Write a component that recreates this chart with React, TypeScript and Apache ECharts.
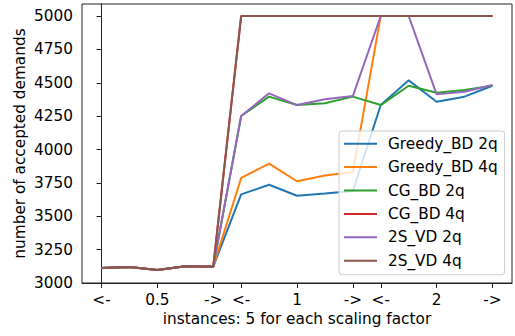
import React, { useEffect, useRef } from "react";
import * as echarts from "echarts";

const xIndex = [0, 1, 2, 3, 4, 5, 6, 7, 8, 9, 10, 11, 12, 13, 14];
const tickPositions = [0, 2, 4, 5, 7, 9, 10, 12, 14];
const tickLabels = ["<-", "0.5", "->", "<-", "1", "->", "<-", "2", "->"];
const yTicks = [3000, 3250, 3500, 3750, 4000, 4250, 4500, 4750, 5000];

const seriesNames = ["Greedy_BD 2q", "Greedy_BD 4q", "CG_BD 2q", "CG_BD 4q", "2S_VD 2q", "2S_VD 4q"];
const colors = ["#1f77b4", "#ff7f0e", "#2ca02c", "#d62728", "#9467bd", "#8c564b"];

const greedy2q = [3112, 3120, 3098, 3125, 3122, 3664, 3736, 3654, 3670, 3689, 4333, 4518, 4358, 4396, 4478];
const greedy4q = [3112, 3120, 3098, 3125, 3122, 3787, 3894, 3762, 3805, 3831, 5000, 5000, 5000, 5000, 5000];
const cg2q = [3112, 3120, 3098, 3125, 3122, 4251, 4396, 4333, 4346, 4396, 4333, 4478, 4425, 4446, 4478];
const cg4q = [3112, 3120, 3098, 3125, 3122, 5000, 5000, 5000, 5000, 5000, 5000, 5000, 5000, 5000, 5000];
const sv2q = [3112, 3120, 3098, 3125, 3122, 4251, 4421, 4333, 4376, 4400, 5000, 5000, 4413, 4433, 4483];
const sv4q = [3112, 3120, 3098, 3125, 3122, 5000, 5000, 5000, 5000, 5000, 5000, 5000, 5000, 5000, 5000];

const allValues = [greedy2q, greedy4q, cg2q, cg4q, sv2q, sv4q];

const FONT = "DejaVu Sans";
const FS = 15.3;

export default function App() {
  const ref = useRef<HTMLDivElement>(null);
  useEffect(() => {
    if (!ref.current) return;
    const chart = echarts.init(ref.current, undefined, { renderer: "svg" });
    chart.setOption({
      animation: false,
      grid: {
        left: 82,
        right: 3,
        top: 4,
        bottom: 53,
        show: true,
        borderColor: "#222",
        borderWidth: 1,
        backgroundColor: "transparent",
      },
      xAxis: {
        type: "value",
        min: -0.7,
        max: 14.7,
        name: "instances: 5 for each scaling factor",
        nameLocation: "middle",
        nameGap: 28,
        nameMoveOverlap: false,
        nameTextStyle: { fontFamily: FONT, fontSize: FS, color: "#000" },
        axisLine: { show: true, onZero: false, lineStyle: { color: "#222", width: 1 } },
        axisTick: { show: true, inside: false, length: 5, customValues: tickPositions, lineStyle: { color: "#222" } },
        axisLabel: {
          customValues: tickPositions,
          margin: 9,
          fontFamily: FONT,
          fontSize: FS,
          color: "#000",
          formatter: (v: number) => {
            const i = tickPositions.indexOf(Math.round(v));
            return i >= 0 ? tickLabels[i] : "";
          },
        },
        splitLine: { show: false },
      },
      yAxis: {
        type: "value",
        min: 3000,
        max: 5090,
        name: "number of accepted demands",
        nameLocation: "middle",
        nameGap: 55,
        nameMoveOverlap: false,
        nameTextStyle: { fontFamily: FONT, fontSize: FS, color: "#000" },
        axisLine: { show: true, lineStyle: { color: "#222", width: 1 } },
        axisTick: { show: true, inside: false, length: 5, customValues: yTicks, lineStyle: { color: "#222" } },
        axisLabel: {
          customValues: yTicks,
          margin: 9,
          fontFamily: FONT,
          fontSize: FS,
          color: "#000",
          formatter: (v: number) => String(v),
        },
        splitLine: { show: false },
      },
      legend: {
        orient: "vertical",
        left: 339,
        top: 131,
        padding: [4.7, 7, 6, 5],
        itemGap: 7.4,
        itemWidth: 33,
        itemHeight: 2,
        icon: "rect",
        backgroundColor: "rgba(255,255,255,0.8)",
        borderColor: "#cccccc",
        borderWidth: 1,
        borderRadius: 3,
        textStyle: { fontFamily: FONT, fontSize: FS, lineHeight: 16, color: "#000", padding: [0, 0, 0, 6] },
        data: seriesNames,
      },
      series: seriesNames.map((name, k) => ({
        name,
        type: "line",
        data: xIndex.map((x, i) => [x, allValues[k][i]]),
        symbol: "none",
        color: colors[k],
        lineStyle: { width: 2, color: colors[k] },
        itemStyle: { color: colors[k] },
      })),
    });
    return () => chart.dispose();
  }, []);
  return <div ref={ref} style={{ position: "absolute", left: 0, top: 0, width: 515, height: 336 }} />;
}
